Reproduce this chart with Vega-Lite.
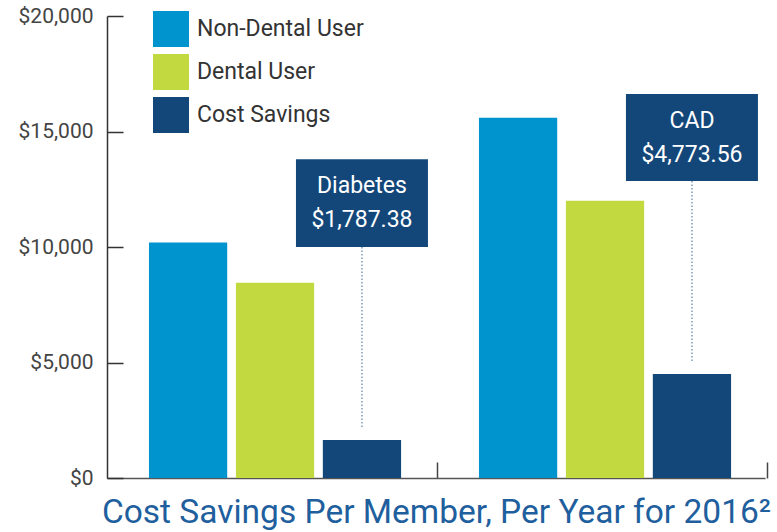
{
  "$schema": "https://vega.github.io/schema/vega-lite/v6.json",
  "width": 658,
  "height": 462,
  "autosize": {"type": "none"},
  "padding": {"left": 107, "top": 16, "right": 12, "bottom": 54},
  "background": "white",
  "config": {
    "view": {"stroke": null},
    "font": "Roboto"
  },
  "datasets": {
    "bars": [
      {"disease": "Diabetes", "series": "Non-Dental User", "cost": 10200},
      {"disease": "Diabetes", "series": "Dental User", "cost": 8450},
      {"disease": "Diabetes", "series": "Cost Savings", "cost": 1650},
      {"disease": "CAD", "series": "Non-Dental User", "cost": 15600},
      {"disease": "CAD", "series": "Dental User", "cost": 12000},
      {"disease": "CAD", "series": "Cost Savings", "cost": 4500}
    ],
    "notes": [
      {"disease": "Diabetes", "series": "Cost Savings", "label": "Diabetes\n$1,787.38", "top": 13800, "bottom": 10000, "mid": 11900, "lineEnd": 2200},
      {"disease": "CAD", "series": "Cost Savings", "label": "CAD\n$4,773.56", "top": 16620, "bottom": 12860, "mid": 14740, "lineEnd": 4980}
    ]
  },
  "encoding": {
    "x": {
      "field": "disease",
      "type": "nominal",
      "sort": ["Diabetes", "CAD"],
      "scale": {"paddingInner": 0.236, "paddingOuter": 0.115, "align": 0.553},
      "axis": {
        "labels": false,
        "tickBand": "center",
        "tickOffset": 162,
        "tickSize": -16,
        "tickColor": "#444444",
        "tickWidth": 1.5,
        "domainColor": "#555555",
        "domainWidth": 1.5,
        "title": "Cost Savings Per Member, Per Year for 2016²",
        "titleFontSize": 33.5,
        "titleFont": "Roboto",
        "titleFontWeight": "normal",
        "titleColor": "#1f5f9e",
        "titlePadding": 18
      }
    },
    "xOffset": {
      "field": "series",
      "type": "nominal",
      "sort": ["Non-Dental User", "Dental User", "Cost Savings"],
      "scale": {"paddingInner": 0.1, "paddingOuter": 0}
    }
  },
  "layer": [
    {
      "data": {"name": "bars"},
      "mark": {"type": "bar"},
      "encoding": {
        "y": {
          "field": "cost",
          "type": "quantitative",
          "title": null,
          "scale": {"domain": [0, 20000], "nice": false},
          "axis": {
            "values": [0, 5000, 10000, 15000, 20000],
            "format": "$,.0f",
            "grid": false,
            "tickSize": -16,
            "tickColor": "#333333",
            "tickWidth": 1.5,
            "domainColor": "#333333",
            "domainWidth": 1.5,
            "labelPadding": 30,
            "labelFont": "Roboto",
            "labelFontSize": 21,
            "labelColor": "#444444"
          }
        },
        "color": {
          "field": "series",
          "type": "nominal",
          "sort": ["Non-Dental User", "Dental User", "Cost Savings"],
          "scale": {
            "domain": ["Non-Dental User", "Dental User", "Cost Savings"],
            "range": ["#0094cf", "#c3d940", "#13477a"]
          },
          "legend": {
            "title": null,
            "orient": "none",
            "legendX": 46,
            "legendY": -5,
            "direction": "vertical",
            "symbolType": "square",
            "symbolSize": 1296,
            "symbolStrokeWidth": 0,
            "symbolOpacity": 1,
            "labelFont": "Roboto",
            "labelFontSize": 23,
            "labelColor": "#333333",
            "labelLimit": 300,
            "labelOffset": 8,
            "rowPadding": 7
          }
        }
      }
    },
    {
      "data": {"name": "notes"},
      "mark": {"type": "rule", "strokeDash": [1.5, 2], "strokeWidth": 1.5, "color": "#7f9bbf"},
      "encoding": {
        "y": {"field": "bottom", "type": "quantitative", "title": null},
        "y2": {"field": "lineEnd"}
      }
    },
    {
      "data": {"name": "notes"},
      "mark": {"type": "bar", "width": 132, "color": "#13477a"},
      "encoding": {
        "y": {"field": "top", "type": "quantitative", "title": null},
        "y2": {"field": "bottom"}
      }
    },
    {
      "data": {"name": "notes"},
      "mark": {"type": "text", "color": "white", "font": "Roboto", "fontSize": 23, "lineBreak": "\n", "lineHeight": 34, "baseline": "middle", "align": "center", "dy": -17},
      "encoding": {
        "y": {"field": "mid", "type": "quantitative", "title": null},
        "text": {"field": "label"}
      }
    }
  ]
}
